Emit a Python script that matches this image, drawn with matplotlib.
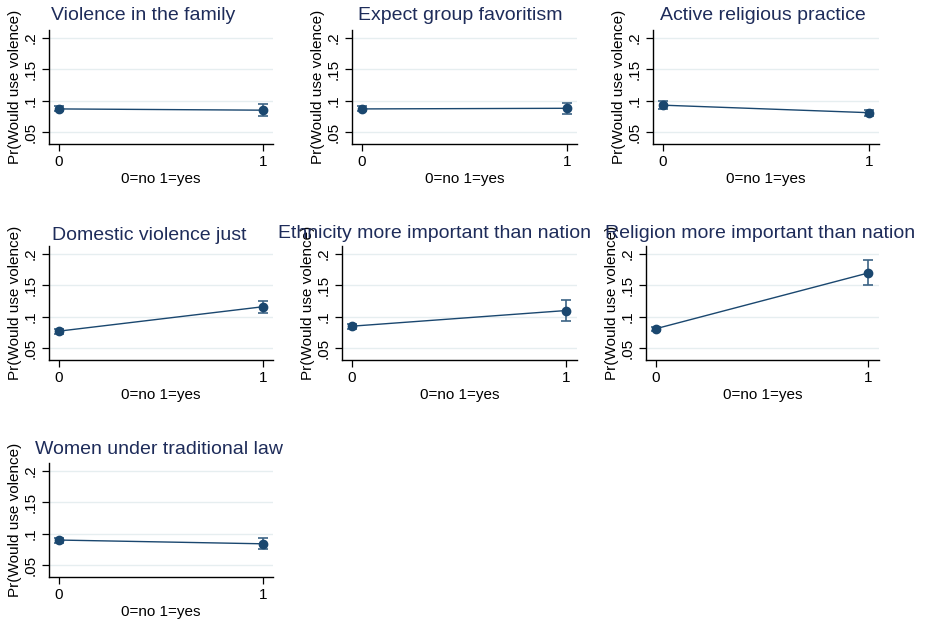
import matplotlib.pyplot as plt
from matplotlib.ticker import FuncFormatter

plt.rcParams['font.family'] = ['Liberation Sans', 'DejaVu Sans']

W, H = 926, 623

titles = ['Violence in the family', 'Expect group favoritism', 'Active religious practice',
          'Domestic violence just', 'Ethnicity more important than nation',
          'Religion more important than nation', 'Women under traditional law']
xvals = [0, 1]
est0 = [0.087, 0.087, 0.093, 0.077, 0.085, 0.081, 0.090]
est1 = [0.085, 0.088, 0.081, 0.116, 0.110, 0.170, 0.084]
ci0 = [0.004, 0.004, 0.006, 0.004, 0.004, 0.003, 0.004]
ci1 = [0.0096, 0.009, 0.005, 0.0097, 0.016, 0.020, 0.0087]
yticks = [0.05, 0.1, 0.15, 0.2]

# panel boxes in pixels: left, right, top, bottom
boxes = [(49, 273, 30, 144), (352, 577, 30, 144), (653, 879, 30, 144),
         (49, 273, 246, 360), (342, 577, 246, 360), (646, 879, 246, 360),
         (49, 273, 463, 577)]
title_pos = [(143, 15), (460, 15), (763, 15), (149, 235), (435, 233), (760, 233), (159, 449)]

navy = '#1a476f'
title_col = '#1e2c5a'

fig = plt.figure(figsize=(W / 100, H / 100), dpi=100)

for i, t in enumerate(titles):
    l, r, top, bot = boxes[i]
    ax = fig.add_axes([l / W, 1 - bot / H, (r - l) / W, (bot - top) / H])
    y = [est0[i], est1[i]]
    e = [ci0[i], ci1[i]]
    ax.plot(xvals, y, color=navy, lw=1)
    ax.errorbar(xvals, y, yerr=e, fmt='o', color=navy, ecolor='#3c6385', ms=6,
                elinewidth=1.2, capsize=3.5, capthick=1.2)
    ax.set_xlim(-0.047, 1.05)
    ax.set_ylim(0.031, 0.213)
    ax.set_xticks(xvals)
    ax.set_yticks(yticks)
    ax.yaxis.set_major_formatter(FuncFormatter(lambda v, p: ('%g' % v).lstrip('0')))
    ax.grid(axis='y', color='#e6eef0', lw=1)
    ax.set_axisbelow(True)
    for s in ['top', 'right']:
        ax.spines[s].set_visible(False)
    for s in ['left', 'bottom']:
        ax.spines[s].set_linewidth(1)
    ax.tick_params(length=5, width=0.9, labelsize=11, pad=3)
    ax.tick_params(axis='y', labelrotation=90)
    for lab in ax.get_yticklabels():
        lab.set_va('center')
    ax.set_xlabel('0=no 1=yes', fontsize=11, labelpad=2)
    ax.set_ylabel('Pr(Would use volence)', fontsize=11)
    ax.yaxis.set_label_coords(-27 / (r - l), 0.5)
    tx, ty = title_pos[i]
    fig.text(tx / W, 1 - ty / H, t, ha='center', va='center', fontsize=14, color=title_col)

fig.savefig('out.png', dpi=100, facecolor='white')
